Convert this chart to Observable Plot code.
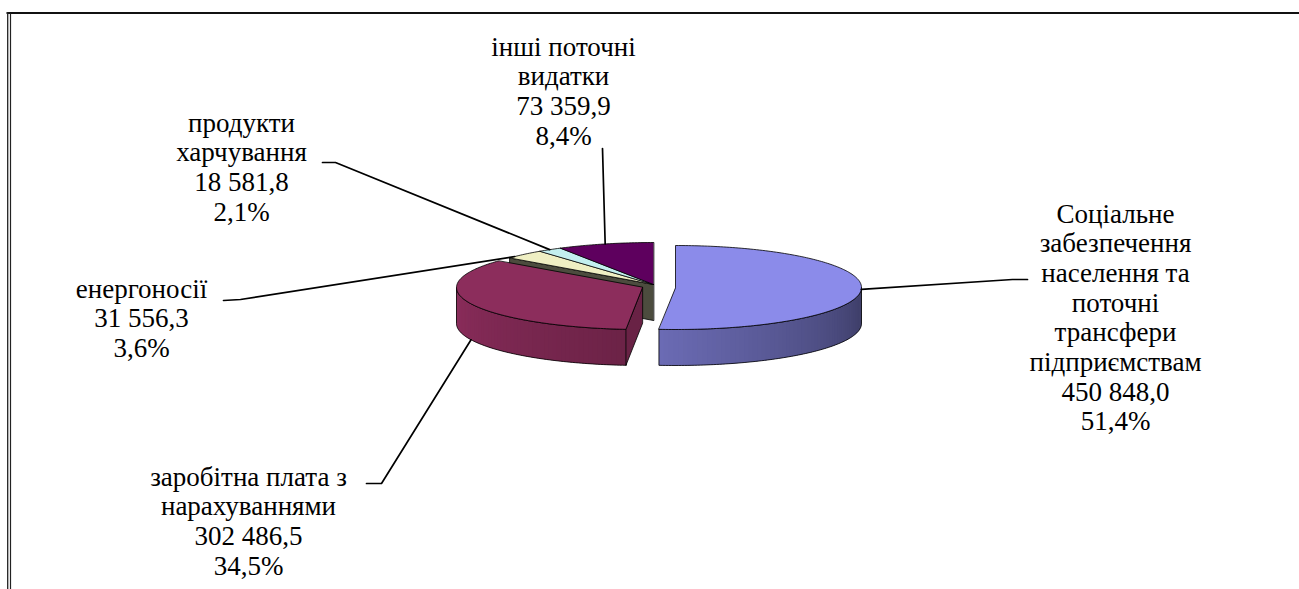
<!DOCTYPE html>
<html>
<head>
<meta charset="utf-8">
<script src="https://cdn.jsdelivr.net/npm/d3@7"></script>
<script src="https://cdn.jsdelivr.net/npm/@observablehq/plot@0.6"></script>
<style>
  html, body { margin: 0; padding: 0; background: #fff; }
</style>
</head>
<body>
<div id="chart"></div>
<script>
// ---- data ----
const categories = [
  "Соціальне\nзабезпечення\nнаселення та\nпоточні\nтрансфери\nпідприємствам",
  "заробітна плата з\nнарахуваннями",
  "енергоносії",
  "продукти\nхарчування",
  "інші поточні\nвидатки"
];
const values = [450848.0, 302486.5, 31556.3, 18581.8, 73359.9];

// ---- style / layout ----
const topColors = ["#8B8BEA", "#8C2D5C", "#EFEFC3", "#C3EFEF", "#5E005E"];
const explode = [[22, 3], [-11, 3], [0, 0], [0, 0], [0, 0]];
const labelPos = [[1115, 222], [248, 485], [141, 297], [241, 131], [563, 55]]; // center x, first baseline
const leaderStart = [
  [[1027, 279], [1012, 279]],
  [[366, 483], [381, 483]],
  [[223, 300], [240, 299]],
  [[322, 162], [335, 162]],
  [[602, 148]]
];
const leaderAngleShift = [0, 0, -4, 0, 0];
const leaderBottom = [false, true, false, false, false];
const fontSize = 27;
const lineStep = 29.7;
const serif = "Liberation Serif";
const cx = 653, cy = 284, rx = 186, ry = 42, depth = 36;

const total = d3.sum(values);
let acc = 0;
const slices = values.map((v, i) => {
  const a0 = acc / total * 360; acc += v; const a1 = acc / total * 360;
  return {i, a0, a1, mid: (a0 + a1) / 2, ox: explode[i][0], oy: explode[i][1]};
});

const P = (s, th, dz = 0) => {
  const r = th * Math.PI / 180;
  return [cx + s.ox + rx * Math.sin(r), cy + s.oy - ry * Math.cos(r) + dz];
};
const C = (s, dz = 0) => [cx + s.ox, cy + s.oy + dz];
const arcPts = (s, t0, t1, dz) => {
  const n = Math.max(2, Math.ceil(Math.abs(t1 - t0)));
  return d3.range(n + 1).map(k => P(s, t0 + (t1 - t0) * k / n, dz));
};
const shade = d3.scaleLinear().domain([90, 185, 270]).range([0.42, 0.77, 1.0]).clamp(true);
const mul = (col, f) => { const c = d3.rgb(col); return d3.rgb(c.r * f, c.g * f, c.b * f).formatHex(); };

const polys = []; // painter-ordered polygons
let pid = 0;
function addPoly(pts, fill, stroke, sw) {
  const id = pid++;
  pts.forEach(([x, y]) => polys.push({id, x, y, fill, stroke, sw}));
}
function topFace(s) { addPoly([C(s), ...arcPts(s, s.a0, s.a1, 0)], topColors[s.i], "#000", 0.8); }
function radialFace(s, th, f) { addPoly([C(s), P(s, th), P(s, th, depth), C(s, depth)], mul(topColors[s.i], f), "#000", 0.8); }
function wall(s) {
  const t0 = Math.max(s.a0, 90), t1 = Math.min(s.a1, 270);
  if (t0 >= t1) return;
  const n = Math.ceil((t1 - t0) / 1.5);
  for (let k = 0; k < n; k++) {
    const ta = t0 + (t1 - t0) * k / n, tb = t0 + (t1 - t0) * Math.min(n, k + 2) / n;
    const tm = t0 + (t1 - t0) * (k + 0.5) / n;
    addPoly([P(s, ta), P(s, tb), P(s, tb, depth), P(s, ta, depth)], mul(topColors[s.i], shade(tm)), "none", 0);
  }
  addPoly([...arcPts(s, t0, t1, 0), ...arcPts(s, t1, t0, depth)], "none", "#000", 0.8);
}

// painter's order: back group, then wages, then social
radialFace(slices[2], slices[2].a0, 0.32);
topFace(slices[2]); topFace(slices[3]); topFace(slices[4]);
wall(slices[1]); radialFace(slices[1], slices[1].a0, 0.75); topFace(slices[1]);
wall(slices[0]); topFace(slices[0]);

// leaders
const leaders = [];
slices.forEach((s, i) => {
  const end = P(s, s.mid + leaderAngleShift[i], leaderBottom[i] ? depth : 0);
  [...leaderStart[i], end].forEach(([x, y]) => leaders.push({id: i, x, y}));
});

// labels: one start-anchored text per line, centred by measuring its width
const ctx = document.createElement("canvas").getContext("2d");
ctx.font = `${fontSize}px "${serif}"`;
const fmt = d3.formatLocale({decimal: ",", thousands: " ", grouping: [3]}).format(",.1f");
const labelLines = [];
categories.forEach((name, i) => {
  const lines = [...name.split("\n"), fmt(values[i]), (values[i] / total * 100).toFixed(1).replace(".", ",") + "%"];
  lines.forEach((line, j) => labelLines.push({
    x: labelPos[i][0] - ctx.measureText(line).width / 2,
    y: labelPos[i][1] + j * lineStep - 0.32 * fontSize,
    text: line
  }));
});

const chart = Plot.plot({
  width: 1299, height: 589,
  marginTop: 0, marginRight: 0, marginBottom: 0, marginLeft: 0,
  x: {domain: [0, 1299], range: [0, 1299], axis: null},
  y: {domain: [0, 589], range: [0, 589], axis: null},
  color: {type: "identity"},
  style: {background: "#fff"},
  marks: [
    Plot.line(polys, {x: "x", y: "y", z: "id", fill: "fill", stroke: "stroke", strokeWidth: "sw", strokeLinejoin: "round", curve: "linear-closed"}),
    Plot.line(leaders, {x: "x", y: "y", z: "id", stroke: "#000", strokeWidth: 1.7}),
    ...labelLines.map(d => Plot.text([d], {x: "x", y: "y", text: "text", fontFamily: serif, fontSize: fontSize, textAnchor: "start"})),
    Plot.ruleY([12.5], {x1: 6.5, x2: 1299, stroke: "#111", strokeWidth: 2.2}),
    Plot.ruleX([7.2], {y1: 12, y2: 589, stroke: "#222", strokeWidth: 1.3}),
    Plot.ruleX([10], {y1: 13.5, y2: 589, stroke: "#222", strokeWidth: 1.2})
  ]
});
document.getElementById("chart").appendChild(chart);
</script>
</body>
</html>
